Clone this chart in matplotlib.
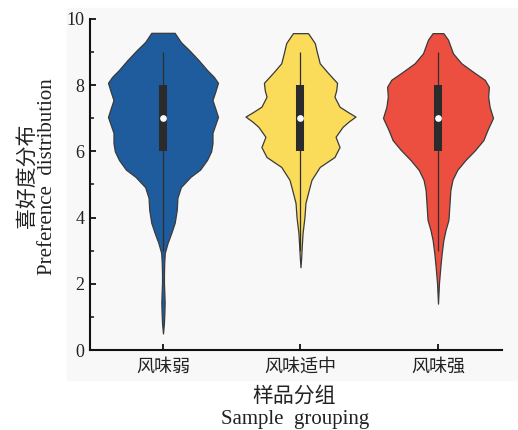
import matplotlib
matplotlib.use("Agg")
import matplotlib.pyplot as plt
from matplotlib.patches import Rectangle

plt.rcParams["font.family"] = ["Liberation Serif", "Noto Sans CJK SC"]

# groups and violin outlines (value, half-width)
groups = ["风味弱", "风味适中", "风味强"]
colors = ["#1f5c9e", "#fbdb5a", "#ec4f40"]

weak_y = [9.58, 9.3, 9.06, 8.75, 8.46, 8.25, 8.07, 7.8, 7.55, 7.3, 7.04, 6.8, 6.56,
          6.25, 6.0, 5.74, 5.45, 5.23, 4.92, 4.6, 4.23, 3.84, 3.53, 3.23, 2.93, 2.63,
          2.3, 2.02, 1.7, 1.42, 1.12, 0.82, 0.5]
weak_w = [0.085, 0.13, 0.19, 0.26, 0.32, 0.37, 0.40, 0.38, 0.36, 0.38, 0.40, 0.38, 0.36,
          0.36, 0.35, 0.32, 0.27, 0.20, 0.13, 0.105, 0.10, 0.085, 0.06, 0.033, 0.013, 0.009,
          0.007, 0.007, 0.010, 0.012, 0.010, 0.007, 0.0]

mid_y = [9.57, 9.27, 8.97, 8.66, 8.37, 8.07, 7.85, 7.65, 7.35, 7.2, 7.05, 6.9, 6.74,
         6.44, 6.13, 5.83, 5.53, 5.14, 4.83, 4.44, 4.02, 3.53, 3.11, 2.8, 2.5]
mid_w = [0.055, 0.104, 0.121, 0.14, 0.20, 0.266, 0.26, 0.247, 0.284, 0.34, 0.40, 0.35, 0.306,
         0.255, 0.284, 0.247, 0.14, 0.08, 0.06, 0.036, 0.029, 0.015, 0.009, 0.005, 0.0]

strong_y = [9.57, 9.37, 8.96, 8.66, 8.36, 8.16, 7.95, 7.65, 7.35, 7.01, 6.65, 6.34, 6.04,
            5.74, 5.44, 5.14, 4.83, 4.32, 3.93, 3.63, 3.32, 2.93, 2.51, 2.02, 1.4]
strong_w = [0.039, 0.073, 0.109, 0.17, 0.27, 0.34, 0.37, 0.365, 0.375, 0.40, 0.36, 0.33, 0.27,
            0.20, 0.14, 0.105, 0.09, 0.082, 0.076, 0.055, 0.039, 0.027, 0.017, 0.007, 0.0]

# inner box: q1, median, q3, whisker low/high
q1 = [6, 6, 6]
medians = [7, 7, 7]
q3 = [8, 8, 8]
whisk_lo = [3, 3, 3]
whisk_hi = [9, 9, 9]

profiles = [(weak_y, weak_w), (mid_y, mid_w), (strong_y, strong_w)]

fig = plt.figure(figsize=(5.18, 4.30), dpi=100)
fig.patches.append(Rectangle((0.129, 0.116), 0.871, 0.865, transform=fig.transFigure,
                             color="#f8f8f8", zorder=-10))
ax = fig.add_axes([0.1737, 0.186, 0.7953, 0.770])
ax.set_facecolor("none")

for i, (yy, ww) in enumerate(profiles):
    left = [i - w for w in ww]
    right = [i + w for w in ww]
    ax.fill_betweenx(yy, left, right, facecolor=colors[i], edgecolor="#3a3a3a",
                     linewidth=0.9, zorder=2)
    ax.vlines(i, whisk_lo[i], whisk_hi[i], color="#2e2e2e", lw=0.9, zorder=3)
    ax.vlines(i, q1[i], q3[i], color="#2b2b2b", lw=5.8, zorder=4)
    ax.plot(i, medians[i], "o", color="white", ms=3.8, zorder=5)

ax.set_xlim(-0.531, 2.465)
ax.set_ylim(0, 10)
ax.set_xticks(range(len(groups)))
ax.set_xticklabels(groups)
ax.set_yticks(range(0, 11, 2))
ax.set_yticks(range(1, 10, 2), minor=True)

for s in ["top", "right"]:
    ax.spines[s].set_visible(False)
for s in ["left", "bottom"]:
    ax.spines[s].set_linewidth(1.5)
    ax.spines[s].set_color("#111111")

ax.tick_params(axis="both", which="major", direction="in", length=4.5, width=1.3,
               labelsize=13, colors="#111111", labelcolor="#222222", pad=4)
ax.tick_params(axis="y", which="minor", direction="in", length=3, width=1.1,
               colors="#111111")
ax.tick_params(axis="x", labelsize=13, pad=6)

fig.text(0.055, 0.59, "喜好度分布", rotation=90, ha="center", va="center",
         fontsize=15, color="#222222")
fig.text(0.091, 0.59, "Preference  distribution", rotation=90, ha="center",
         va="center", fontsize=15, color="#222222")
fig.text(0.567, 0.077, "样品分组", ha="center", va="center", fontsize=15,
         color="#222222")
fig.text(0.570, 0.025, "Sample  grouping", ha="center", va="center", fontsize=15,
         color="#222222")

fig.savefig("out.png", dpi=100)
